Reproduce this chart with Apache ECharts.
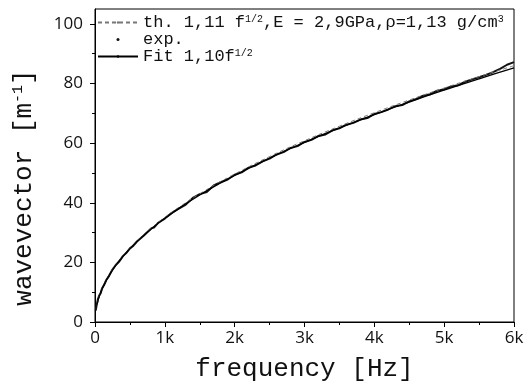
<!DOCTYPE html>
<html><head><meta charset="utf-8">
<script src="https://cdn.jsdelivr.net/npm/echarts@6/dist/echarts.min.js"></script>
<style>html,body{margin:0;padding:0;background:#fff}#c{width:527px;height:387px}</style>
</head><body><div id="c"></div>
<script>
// ---- data ----
const lineFreq = [30, 60, 100, 150, 200, 300, 400, 500, 650, 800, 1000, 1250, 1500, 1750, 2000, 2500, 3000, 3500, 4000, 4500, 5000, 5500, 6000];
const fitVals  = [6.02, 8.52, 11.0, 13.47, 15.56, 19.05, 22.0, 24.6, 28.05, 31.11, 34.79, 38.89, 42.6, 46.02, 49.19, 55.0, 60.25, 65.08, 69.57, 73.79, 77.78, 81.58, 85.21];
const thVals   = [6.08, 8.60, 11.1, 13.59, 15.70, 19.23, 22.2, 24.82, 28.30, 31.40, 35.10, 39.24, 42.99, 46.43, 49.64, 55.5, 60.8, 65.67, 70.2, 74.46, 78.49, 82.32, 85.98];
const expFreq = [10, 20, 40, 60, 80, 100, 130, 160, 200, 250, 300, 350, 400, 450, 500, 550, 600, 700, 800, 850, 900, 1000, 1100, 1200, 1300, 1400, 1500, 1600, 1700, 1800, 1900, 2000, 2100, 2200, 2300, 2400, 2500, 2600, 2700, 2800, 2900, 3000, 3100, 3200, 3300, 3400, 3500, 3600, 3700, 3800, 3900, 4000, 4100, 4200, 4300, 4400, 4500, 4600, 4700, 4800, 4900, 5000, 5100, 5200, 5300, 5400, 5500, 5600, 5700, 5800, 5900, 6000];
const expVals = [3.8, 5.2, 7.5, 8.9, 9.6, 11.2, 12.4, 14.0, 15.4, 17.6, 19.2, 20.4, 22.1, 23.2, 24.7, 25.6, 27.0, 29.0, 31.3, 31.8, 33.2, 34.7, 36.6, 38.0, 39.4, 41.6, 42.9, 43.6, 45.8, 46.9, 47.8, 49.4, 50.2, 51.8, 52.5, 53.9, 54.8, 56.2, 57.0, 58.4, 59.0, 60.4, 61.1, 62.4, 62.9, 64.3, 65.0, 66.2, 66.8, 67.9, 68.4, 69.8, 70.4, 71.3, 72.4, 72.8, 74.0, 74.8, 75.9, 76.4, 77.6, 78.1, 79.0, 79.4, 80.6, 81.4, 82.1, 82.9, 83.8, 84.9, 86.3, 87.2];
const xTickValues = [0, 1000, 2000, 3000, 4000, 5000, 6000];
const xTickLabels = ['0', '1k', '2k', '3k', '4k', '5k', '6k'];
const yTickValues = [0, 20, 40, 60, 80, 100];

const zip = (a, b) => a.map((v, i) => [v, b[i]]);
const mono = 'Liberation Mono';
const chart = echarts.init(document.getElementById('c'), null, {renderer: 'canvas'});
chart.setOption({
  animation: false,
  backgroundColor: '#fff',
  grid: {left: 95, right: 13, top: 9, bottom: 65, show: true, borderColor: '#000', borderWidth: 1, backgroundColor: 'transparent'},
  legend: {
    orient: 'vertical', left: 97, top: 14, padding: 0, itemWidth: 40, itemHeight: 3, itemGap: 0,
    data: [{name: 'th'}, {name: 'exp', icon: 'circle'}, {name: 'fit'}],
    formatter: function (n) {
      if (n === 'th') return 'th. 1,11 f{s|1/2},E = 2,9GPa,ρ=1,13 g/cm{s|3}';
      if (n === 'exp') return 'exp.';
      return 'Fit 1,10f{s|1/2}';
    },
    textStyle: {fontFamily: mono, fontSize: 17, color: '#111', lineHeight: 16.5,
      rich: {s: {fontFamily: mono, fontSize: 10, lineHeight: 16.5, verticalAlign: 'top'}}}
  },
  xAxis: {
    type: 'value', min: 0, max: 6000, interval: 1000,
    name: 'frequency [Hz]', nameLocation: 'middle', nameGap: 34,
    nameTextStyle: {fontFamily: mono, fontSize: 26, color: '#111'},
    axisLine: {lineStyle: {color: '#000', width: 1}},
    axisTick: {show: true, length: 5, lineStyle: {color: '#000'}},
    minorTick: {show: true, splitNumber: 2, length: 3, lineStyle: {color: '#000'}},
    splitLine: {show: false},
    axisLabel: {margin: 8, fontFamily: 'Open Sans', fontSize: 17, color: '#111',
      formatter: v => { const i = xTickValues.indexOf(v); return i >= 0 ? xTickLabels[i] : ''; }}
  },
  yAxis: {
    type: 'value', min: 0, max: 105, interval: 20,
    name: 'wavevector [m{s|-1}]', nameLocation: 'middle', nameGap: 58,
    nameTextStyle: {fontFamily: mono, fontSize: 26, color: '#111', padding: [0, 44, 0, 0],
      rich: {s: {fontFamily: mono, fontSize: 15, verticalAlign: 'top', lineHeight: 26}}},
    axisLine: {show: true, lineStyle: {color: '#000', width: 1}},
    axisTick: {show: true, length: 5, lineStyle: {color: '#000'}, customValues: yTickValues},
    minorTick: {show: true, splitNumber: 2, length: 3, lineStyle: {color: '#000'}},
    splitLine: {show: false},
    axisLabel: {margin: 12, fontFamily: 'Open Sans', fontSize: 17, color: '#111', customValues: yTickValues}
  },
  series: [
    {name: 'th', type: 'line', data: zip(lineFreq, thVals), symbol: 'none', smooth: true,
      lineStyle: {color: '#777', width: 1, type: [4, 3]}, itemStyle: {color: '#777'}, z: 3},
    {name: 'exp', type: 'line', data: zip(expFreq, expVals), symbol: 'none', smooth: false,
      lineStyle: {color: '#111', width: 2}, itemStyle: {color: '#111'}, z: 2},
    {name: 'fit', type: 'line', data: zip(lineFreq, fitVals), symbol: 'none', smooth: true,
      lineStyle: {color: '#000', width: 1.3}, itemStyle: {color: '#000'}, z: 4}
  ]
});
</script></body></html>
